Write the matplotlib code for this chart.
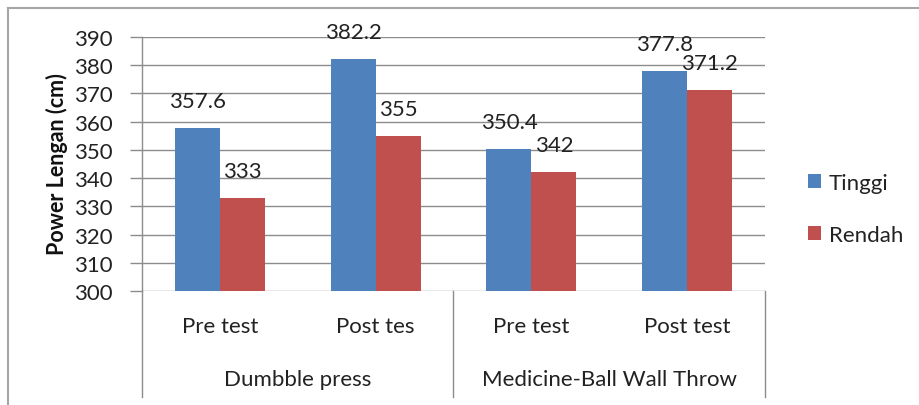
import matplotlib
matplotlib.use("Agg")
import matplotlib.pyplot as plt
from matplotlib.lines import Line2D
from matplotlib.patches import Patch
import numpy as np

plt.rcParams['font.family'] = ['Lato', 'DejaVu Sans']

groups = ["Dumbble press", "Medicine-Ball Wall Throw"]
categories = ["Pre test", "Post tes", "Pre test", "Post test"]
series_names = ["Tinggi", "Rendah"]
tinggi = [357.6, 382.2, 350.4, 377.8]
rendah = [333, 355, 342, 371.2]
y_ticks = list(range(300, 391, 10))

blue = "#4F81BD"
red = "#C0504D"
grid_col = "#8C8C8C"
text_col = "#222222"
fs = 16

W, H = 920, 406
fig = plt.figure(figsize=(W / 100, H / 100), dpi=100)

# plot area in pixel coordinates
left_px, right_px, top_px, bottom_px = 142, 765, 38, 292
ax = fig.add_axes([left_px / W, 1 - bottom_px / H,
                   (right_px - left_px) / W, (bottom_px - top_px) / H])

x = np.arange(len(categories))
bw = 0.2885
b1 = ax.bar(x - bw / 2, tinggi, bw, color=blue, zorder=3)
b2 = ax.bar(x + bw / 2, rendah, bw, color=red, zorder=3)

ax.set_ylim(y_ticks[0], y_ticks[-1])
ax.set_xlim(-0.5, len(categories) - 0.5)
ax.set_yticks(y_ticks)
ax.set_yticklabels([str(t) for t in y_ticks], fontsize=fs, color=text_col)
ax.set_xticks([])
ax.tick_params(axis="y", length=9, width=1, color=grid_col, pad=12)
ax.yaxis.grid(True, color=grid_col, linewidth=1, zorder=0)
for s in ["top", "right", "bottom"]:
    ax.spines[s].set_visible(False)
ax.spines["left"].set_color(grid_col)
ax.spines["left"].set_linewidth(1)
ax.set_axisbelow(True)

# value labels above each bar
for bars, vals in ((b1, tinggi), (b2, rendah)):
    for rect, v in zip(bars, vals):
        ax.annotate(f"{v:g}", (rect.get_x() + rect.get_width() / 2, v),
                    xytext=(0, 19.5), textcoords="offset points",
                    ha="center", va="center", fontsize=fs, color=text_col)

# two-level category axis
ax_h = bottom_px - top_px
sep_bottom = -(398 - bottom_px) / ax_h
trans = ax.get_xaxis_transform()
for xs in (-0.5, 1.5, 3.5):
    ax.add_line(Line2D([xs, xs], [0, sep_bottom], transform=trans,
                       color=grid_col, linewidth=1, clip_on=False))
for xi, lab in zip(x, categories):
    ax.text(xi, -(327 - bottom_px) / ax_h, lab, transform=trans,
            ha="center", va="center", fontsize=fs, color=text_col)
for gi, g in enumerate(groups):
    ax.text(gi * 2 + 0.5, -(380 - bottom_px) / ax_h, g, transform=trans,
            ha="center", va="center", fontsize=fs, color=text_col)

fig.text(57 / W, 1 - 164 / H, "Power Lengan (cm)", rotation=90,
         ha="center", va="center", fontsize=15.5, fontweight="bold",
         color="#111111")

handles = [Patch(facecolor=blue), Patch(facecolor=red)]
fig.legend(handles, series_names, loc="center left",
           bbox_to_anchor=(799 / W, 1 - 210 / H), frameon=False,
           fontsize=fs, handlelength=0.6, handleheight=0.6,
           handletextpad=0.35, labelspacing=1.45, borderaxespad=0,
           labelcolor=text_col)

# chart frame
fig.add_artist(Line2D([8 / W, 8 / W], [0, 1 - 9 / H],
                      transform=fig.transFigure, color="#A6A6A6", linewidth=1.5))
fig.add_artist(Line2D([8 / W, 1], [1 - 9 / H, 1 - 9 / H],
                      transform=fig.transFigure, color="#A6A6A6", linewidth=1.5))

fig.savefig("out.png", dpi=100)
